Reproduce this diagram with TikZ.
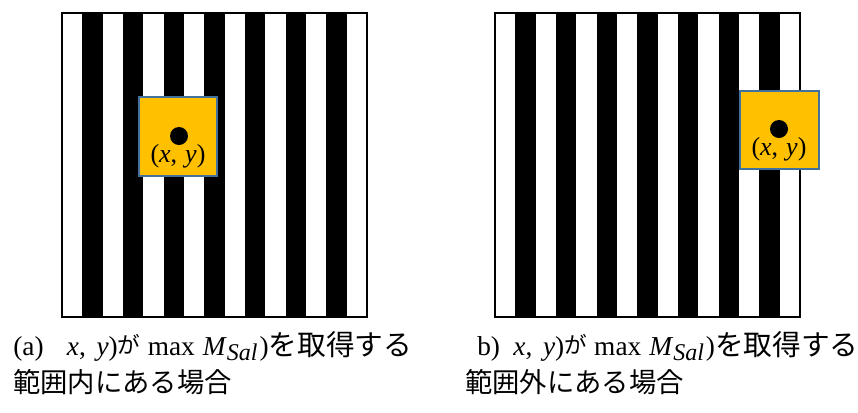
\documentclass[tikz,border=0pt]{standalone}
\usepackage{fontspec}
\setmainfont{Liberation Serif}
\newfontfamily\jpfont{Noto Sans CJK JP}
\newcommand{\jp}[1]{{\jpfont #1}}
% shared middle part of the first caption lines
\newcommand{\capmid}{\textit{x},\hspace{8pt}\textit{y})\raisebox{1pt}{\jp{\fontsize{17}{17}\selectfont が}}\hspace{5.5pt}max\hspace{6pt}\textit{M}\raisebox{-4pt}{\fontsize{18}{18}\selectfont\textit{Sal}}\hspace{1.5pt})\jp{\fontsize{21.5}{24}\selectfont を取得する}}
\definecolor{winfill}{HTML}{FFC000}
\definecolor{winedge}{HTML}{41719C}

\begin{document}
\begin{tikzpicture}[x=0.75pt, y=-0.75pt,
  frame/.style={draw=black, line width=1pt},
  stripe/.style={fill=black},
  win/.style={rectangle, draw=winedge, fill=winfill, line width=1.1pt, inner sep=0pt},
  pix/.style={circle, fill=black, minimum size=13.5pt, inner sep=0pt},
  xylab/.style={font=\fontsize{19.5}{22}\selectfont, inner sep=0pt, anchor=base},
  captext/.style={font=\fontsize{20.5}{24}\selectfont, inner sep=0pt, anchor=base west}
]
  \useasboundingbox (0,0) rectangle (858,412);

  % striped images (a) and (b)
  \foreach \ox in {62, 495} {
    \foreach \i in {1,3,...,13}
      \fill[stripe] ({\ox+\i*305/15},13) rectangle ({\ox+(\i+1)*305/15},317);
    \draw[frame] (\ox,13) rectangle ({\ox+305},317);
  }

  % window inside the range
  \node[win, minimum width=58.5pt, minimum height=59.25pt] (winA) at (178,136.5) {};
  \node[pix] (ptA) at (179,136) {};
  \node[xylab] (xyA) at (178,162) {(\textit{x},\hspace{6pt}\textit{y})};

  % window outside the range
  \node[win, minimum width=59.25pt, minimum height=58.5pt] (winB) at (779.5,130) {};
  \node[pix] (ptB) at (779,129) {};
  \node[xylab] (xyB) at (779,155) {(\textit{x},\hspace{6pt}\textit{y})};

  % captions
  \node[captext] (capA1) at (13,355) {(a)\hspace{17.5pt}\capmid};
  \node[captext] (capA2) at (13,392) {\jp{\fontsize{20.5}{24}\selectfont 範囲内にある場合}};
  \node[captext] (capB1) at (477,355) {b)\hspace{10pt}\capmid};
  \node[captext] (capB2) at (465,392) {\jp{\fontsize{20.5}{24}\selectfont 範囲外にある場合}};
\end{tikzpicture}
\end{document}
